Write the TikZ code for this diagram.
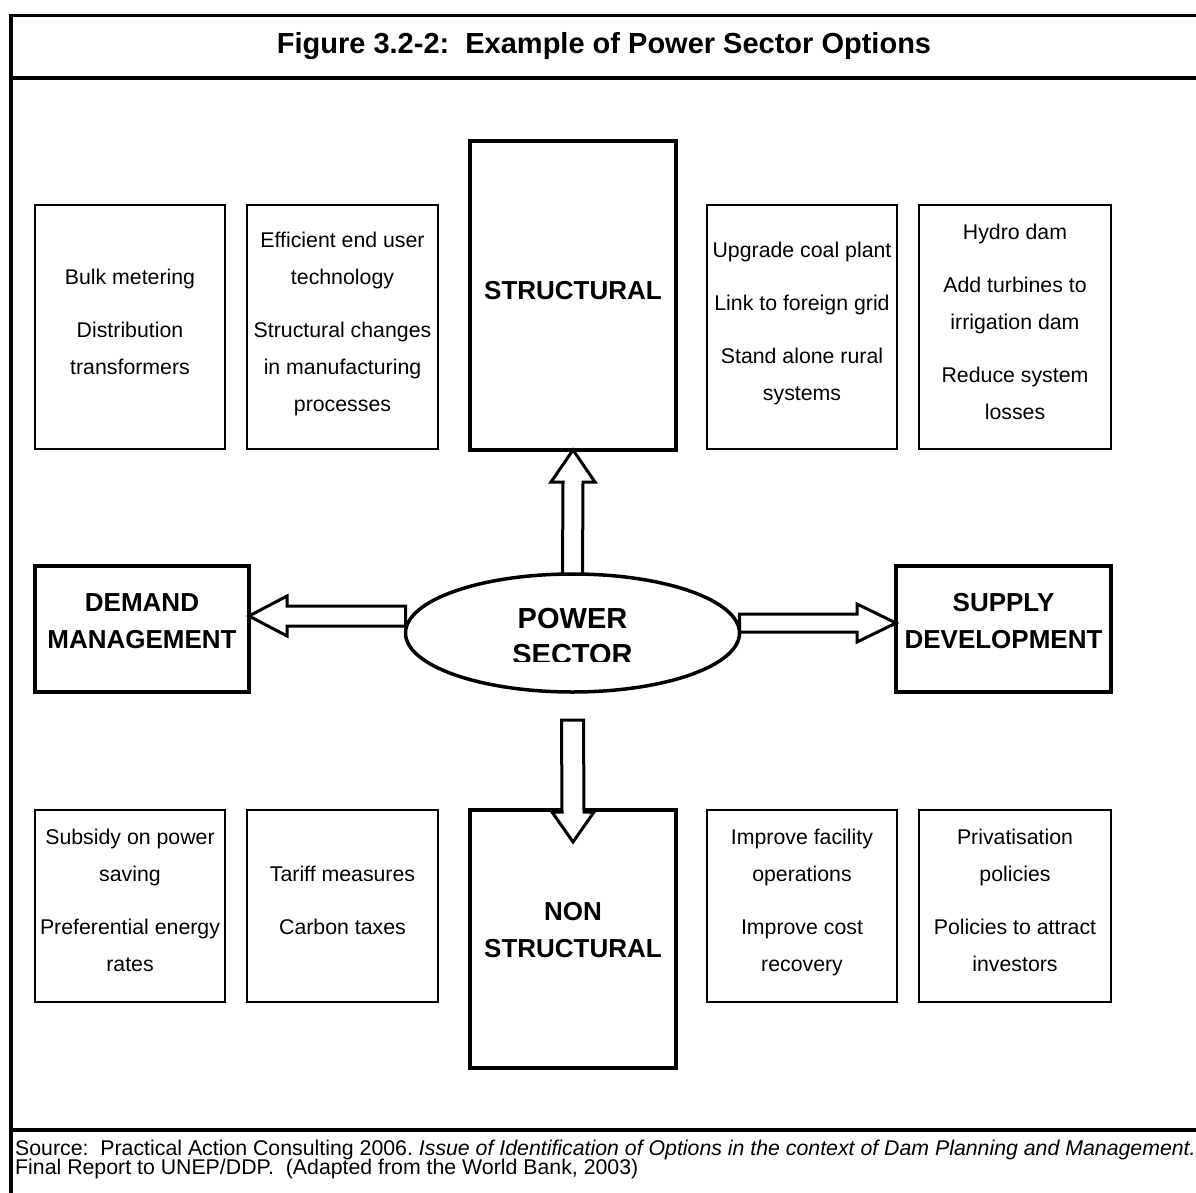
\documentclass[tikz,border=0pt]{standalone}
\usepackage{fontspec}
\setmainfont{Liberation Sans}
\usetikzlibrary{calc,shapes.geometric}
\newcommand{\bodyfnt}{\fontsize{21.3pt}{37pt}\selectfont\frenchspacing}
\newcommand{\labelfnt}{\fontsize{26pt}{37pt}\selectfont\bfseries}
\newcommand{\powerfnt}{\fontsize{29pt}{36pt}\selectfont\bfseries}
\newcommand{\titlefnt}{\fontsize{29pt}{34pt}\selectfont\bfseries\frenchspacing}
\newcommand{\srcfnt}{\fontsize{21.3pt}{19pt}\selectfont\frenchspacing}
\begin{document}
\begin{tikzpicture}[x=1pt,y=-1pt,
  optbox/.style={draw, rectangle, line width=2.3pt, inner sep=0pt, outer sep=0pt, align=center, font=\bodyfnt, execute at begin node=\strut, execute at end node=\strut},
  upbox/.style={optbox, minimum height=244pt},
  lowbox/.style={optbox, minimum height=192pt},
  bigbox/.style={draw, rectangle, line width=4pt, inner sep=0pt, outer sep=0pt},
  biglabel/.style={inner sep=0pt, align=center, font=\labelfnt, execute at begin node=\strut, execute at end node=\strut},
  blockarrow/.style={line width=3pt, line join=miter},
  framerule/.style={line width=3.2pt},
  srctext/.style={anchor=base west, inner sep=0pt, font=\srcfnt},
]
\useasboundingbox (0,0) rectangle (1196,1193);
\clip (0,0) rectangle (1196,1193);
% frame
\draw[framerule] (11,15.5) rectangle (1215,1215);
\draw[framerule] (11,78) -- (1215,78);
\draw[framerule] (11,1130) -- (1215,1130);
\node[anchor=base, inner sep=0pt, font=\titlefnt] (title) at (604,53.4) {Figure 3.2-2:\ \ Example of Power Sector Options};

% upper option boxes
\node[upbox, minimum width=190pt] (tl1) at (130,327) {Bulk metering\\[16pt]Distribution\\transformers};
\node[upbox, minimum width=191pt] (tl2) at (342.5,327) {Efficient end user\\technology\\[16pt]Structural changes\\in manufacturing\\processes};
\node[upbox, minimum width=190pt] (tr1) at (802,327) {Upgrade coal plant\\[16pt]Link to foreign grid\\[16pt]Stand alone rural\\systems};
\node[upbox, minimum width=192pt] (tr2) at (1015,327) {Hydro dam\\[16pt]Add turbines to\\irrigation dam\\[16pt]Reduce system\\losses};

% lower option boxes
\node[lowbox, minimum width=190pt] (bl1) at (130,906) {Subsidy on power\\saving\\[16pt]Preferential energy\\rates};
\node[lowbox, minimum width=191pt] (bl2) at (342.5,906) {Tariff measures\\[16pt]Carbon taxes};
\node[lowbox, minimum width=190pt] (br1) at (802,906) {Improve facility\\operations\\[16pt]Improve cost\\recovery};
\node[lowbox, minimum width=192pt] (br2) at (1015,906) {Privatisation\\policies\\[16pt]Policies to attract\\investors};

% main boxes
\node[bigbox, minimum width=206pt, minimum height=309pt] (struct) at (573,295.5) {};
\node[biglabel] (structlab) at (573,292) {STRUCTURAL};
\node[bigbox, minimum width=214pt, minimum height=126pt] (demand) at (142,629) {};
\node[biglabel] (demandlab) at (142,626.5) {DEMAND\\MANAGEMENT};
\node[bigbox, minimum width=215pt, minimum height=126pt] (supply) at (1003.5,629) {};
\node[biglabel] (supplylab) at (1003.5,626.5) {SUPPLY\\DEVELOPMENT};
\node[bigbox, minimum width=206pt, minimum height=258pt] (nonstruct) at (573,939) {};
\node[biglabel] (nonstructlab) at (573,935.5) {NON\\STRUCTURAL};

% central ellipse
\node[draw, ellipse, line width=3.5pt, minimum width=334pt, minimum height=118pt, inner sep=0pt, outer sep=0pt] (ps) at (572.5,633) {};
\begin{scope}
\clip (400,560) rectangle (745,661);
\node[inner sep=0pt, align=center, font=\powerfnt, execute at begin node=\strut, execute at end node=\strut] (pstext) at (572.5,642) {POWER\\SECTOR};
\end{scope}

% block arrows
\draw[blockarrow] ($(ps.north)+(-10,0)$) -- ($(struct.south)+(-10,32)$) -- ($(struct.south)+(-22,32)$) -- (struct.south) -- ($(struct.south)+(22,32)$) -- ($(struct.south)+(10,32)$) -- ($(ps.north)+(10,0)$);
\draw[blockarrow] ($(ps.west)+(0,-27)$) -- ($(demand.east)+(38,-23)$) -- ($(demand.east)+(38,-33)$) -- ($(demand.east)+(0,-13)$) -- ($(demand.east)+(38,7)$) -- ($(demand.east)+(38,-3)$) -- ($(ps.west)+(0,-7)$) -- cycle;
\draw[blockarrow] ($(ps.east)+(0,-19)$) -- ($(supply.west)+(-39,-15)$) -- ($(supply.west)+(-39,-25)$) -- ($(supply.west)+(0,-6)$) -- ($(supply.west)+(-39,13)$) -- ($(supply.west)+(-39,3)$) -- ($(ps.east)+(0,-1)$) -- cycle;
\draw[blockarrow, fill=white] ($(ps.south)+(-11,28)$) -- ($(nonstruct.north)+(-11,2)$) -- ($(nonstruct.north)+(-21,2)$) -- ($(nonstruct.north)+(0,32)$) -- ($(nonstruct.north)+(21,2)$) -- ($(nonstruct.north)+(11,2)$) -- ($(ps.south)+(11,28)$) -- cycle;

% source
\node[srctext] (src1) at (15,1155) {Source:\ \ Practical Action Consulting 2006. \textit{Issue of Identification of Options in the context of Dam Planning and Management.}};
\node[srctext] (src2) at (15,1174) {Final Report to UNEP/DDP.\ \ (Adapted from the World Bank, 2003)};
\end{tikzpicture}
\end{document}
